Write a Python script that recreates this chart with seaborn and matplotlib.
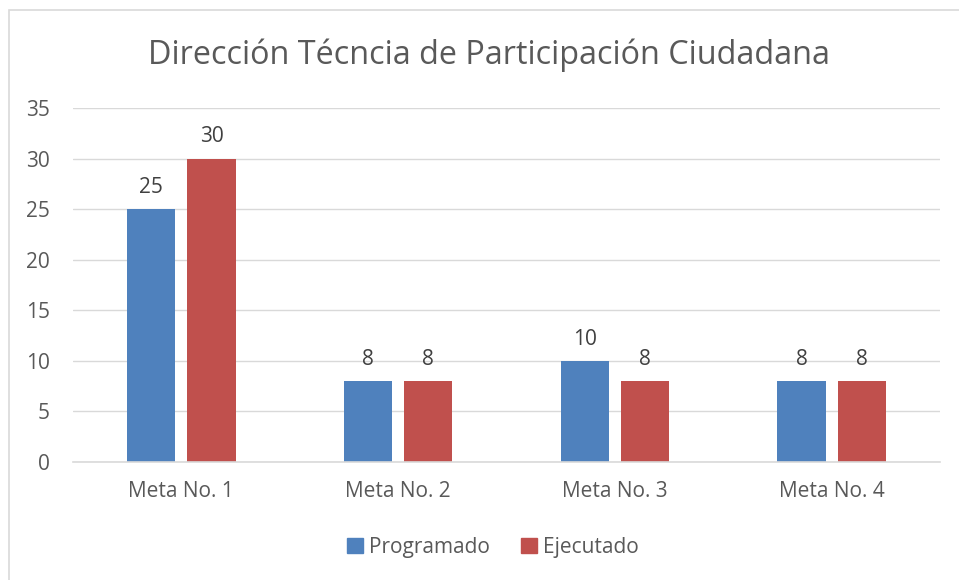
import matplotlib
matplotlib.use("Agg")
import matplotlib.pyplot as plt
import seaborn as sns
import pandas as pd
from matplotlib.patches import Rectangle

categories = ["Meta No. 1", "Meta No. 2", "Meta No. 3", "Meta No. 4"]
programado = [25, 8, 10, 8]
ejecutado = [30, 8, 8, 8]
series_names = ["Programado", "Ejecutado"]
yticks = [0, 5, 10, 15, 20, 25, 30, 35]
title = "Dirección Técncia de Participación Ciudadana"

df = pd.DataFrame({
    "Meta": categories * 2,
    "Valor": programado + ejecutado,
    "Serie": [series_names[0]] * 4 + [series_names[1]] * 4,
})

sns.set_theme(style="white")
plt.rcParams["font.family"] = ["Open Sans", "DejaVu Sans"]

W, H = 959, 580
fig = plt.figure(figsize=(W / 100, H / 100), dpi=100)
ax = fig.add_axes([73 / W, 1 - 462 / H, (940 - 73) / W, (462 - 108) / H])

colors = ["#4F81BD", "#C0504D"]
sns.barplot(data=df, x="Meta", y="Valor", hue="Serie", palette=colors,
            width=0.555, gap=0.2, ax=ax, legend=False, saturation=1,
            linewidth=0, edgecolor="none")

FS = 15
ax.set_ylim(0, 35)
ax.set_yticks(yticks)
ax.set_yticklabels([str(t) for t in yticks], fontsize=FS, color="#595959")
ax.set_xlim(-0.5, 3.5)
ax.tick_params(axis="x", labelsize=FS, colors="#595959", length=0, pad=14)
ax.tick_params(axis="y", length=0, pad=16.5)
for lbl in ax.get_yticklabels():
    lbl.set_horizontalalignment("right")
ax.set_xlabel("")
ax.set_ylabel("")
ax.yaxis.grid(True, color="#D9D9D9", linewidth=1)
ax.set_axisbelow(True)
for s in ["top", "right", "left"]:
    ax.spines[s].set_visible(False)
ax.spines["bottom"].set_color("#D9D9D9")
ax.spines["bottom"].set_linewidth(1.2)

for cont in ax.containers:
    ax.bar_label(cont, fmt="%g", padding=8, fontsize=FS, color="#404040")

fig.text(489 / W, 1 - 55 / H, title, ha="center", va="center",
         fontsize=23.3, color="#595959")

# legend
handles = [Rectangle((0, 0), 1, 1, color=c) for c in colors]
fig.legend(handles, series_names, loc="center", bbox_to_anchor=(493 / W, 1 - 547 / H),
           ncol=2, frameon=False, fontsize=FS, handlelength=0.75, handleheight=0.75,
           handletextpad=0.3, columnspacing=1.5, labelcolor="#595959")

# outer border
fig.patches.append(Rectangle((9 / W, -0.05), 1.1, 1 - 10 / H + 0.05, transform=fig.transFigure,
                             fill=False, edgecolor="#D9D9D9", linewidth=1.2))

fig.savefig("out.png", dpi=100)
